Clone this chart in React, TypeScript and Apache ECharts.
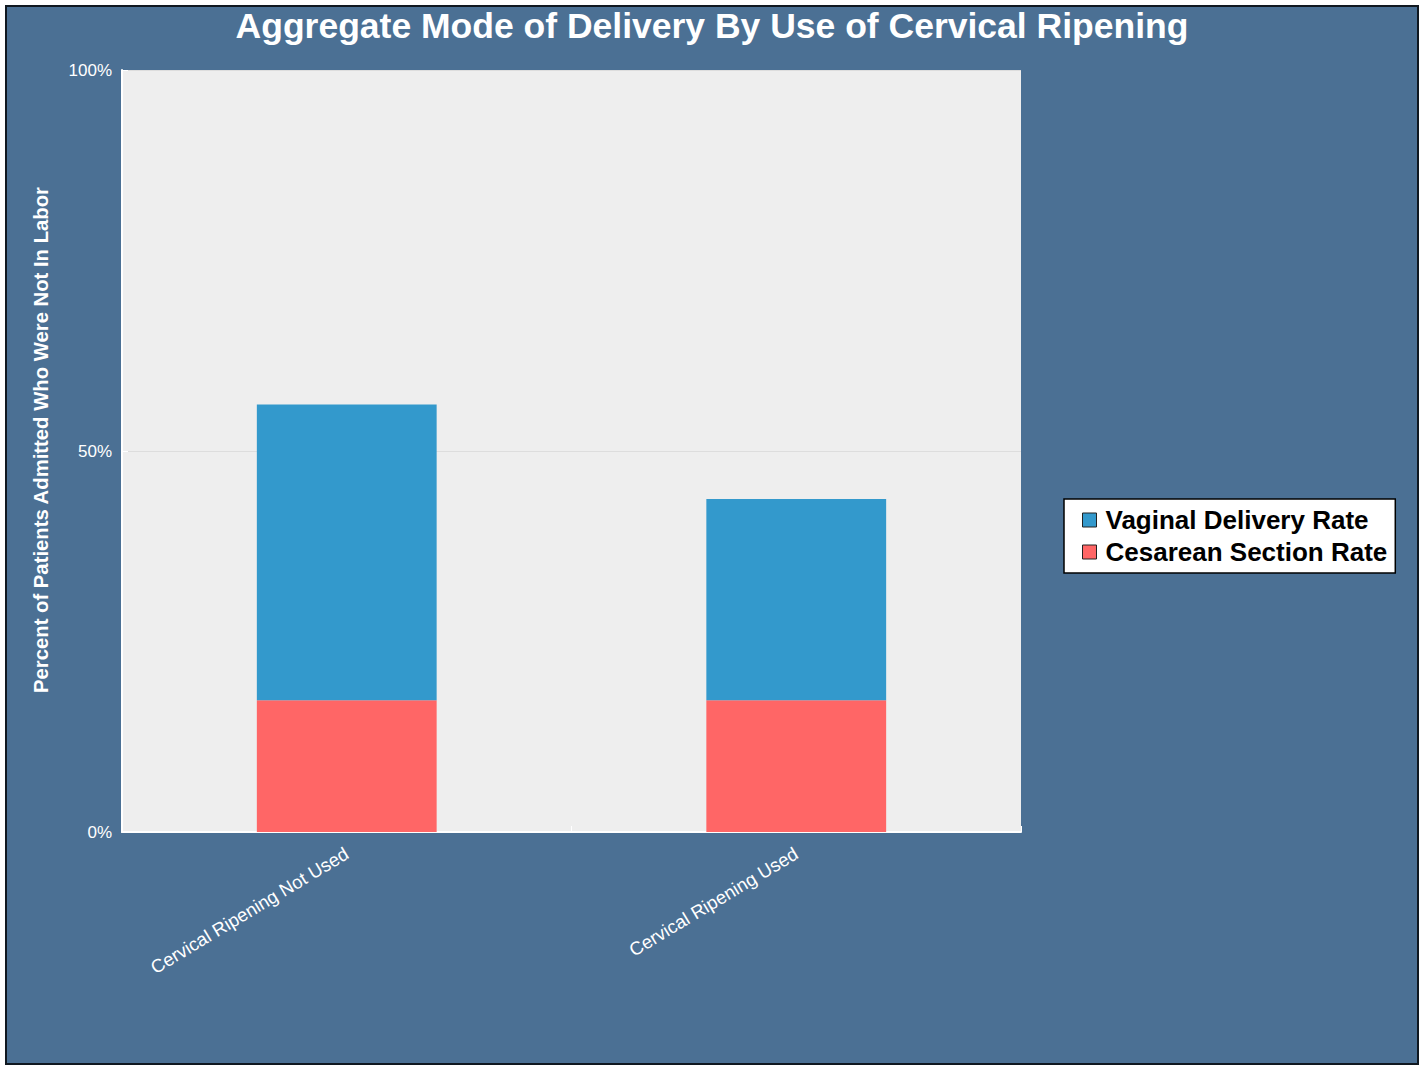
import React, { useEffect, useRef } from "react";
import * as echarts from "echarts";

const categories = ["Cervical Ripening Not Used", "Cervical Ripening Used"];
const cesareanRate = [17.3, 17.3];
const vaginalRate = [38.8, 26.4];
const yTicks = [0, 50, 100];
const yAxisTitle = "Percent of Patients Admitted Who Were Not In Labor";

export default function App() {
  const ref = useRef<HTMLDivElement>(null);
  useEffect(() => {
    if (!ref.current) return;
    const chart = echarts.init(ref.current, undefined, { renderer: "svg" });
    const font = "Liberation Sans, Arial, sans-serif";
    chart.setOption({
      animation: false,
      backgroundColor: "#4b7094",
      title: {
        text: "Aggregate Mode of Delivery By Use of Cervical Ripening",
        left: "center",
        top: -4,
        textStyle: { color: "#ffffff", fontSize: 35.5, fontWeight: "bold", fontFamily: font },
      },
      graphic: [
        {
          type: "text",
          x: 34,
          y: 433,
          rotation: Math.PI / 2,
          style: {
            text: yAxisTitle,
            fill: "#ffffff",
            font: "bold 20.3px Liberation Sans, Arial, sans-serif",
            textAlign: "center",
            textVerticalAlign: "middle",
          },
        },
      ],
      legend: {
        orient: "vertical",
        left: 1057,
        top: 492,
        backgroundColor: "#ffffff",
        borderColor: "#000000",
        borderWidth: 1.5,
        padding: [8, 8, 8, 18],
        itemGap: 6,
        itemWidth: 14,
        itemHeight: 14,
        icon: "rect",
        itemStyle: { borderColor: "#222222", borderWidth: 1 },
        textStyle: { color: "#000000", fontSize: 26, fontWeight: "bold", fontFamily: font, padding: [0, 0, 0, 4] },
        data: ["Vaginal Delivery Rate", "Cesarean Section Rate"],
      },
      grid: {
        left: 115,
        top: 63,
        right: 396,
        bottom: 231,
        show: true,
        backgroundColor: "#eeeeee",
        borderWidth: 0,
      },
      xAxis: {
        type: "category",
        data: categories,
        axisLine: { show: true, lineStyle: { color: "#ffffff", width: 2 } },
        axisTick: { show: true, inside: true, length: 6, lineStyle: { color: "#ffffff" } },
        axisLabel: { color: "#ffffff", fontSize: 18.5, rotate: 31, margin: 20, fontFamily: font },
      },
      yAxis: {
        type: "value",
        min: yTicks[0],
        max: yTicks[yTicks.length - 1],
        interval: 50,
        axisLine: { show: true, lineStyle: { color: "#ffffff", width: 2 } },
        axisTick: { show: true, inside: true, length: 6, lineStyle: { color: "#ffffff" } },
        axisLabel: { color: "#ffffff", fontSize: 17, margin: 10, formatter: "{value}%", fontFamily: font },
        splitLine: { show: true, lineStyle: { color: "#dddddd", width: 1 } },
      },
      series: [
        {
          name: "Cesarean Section Rate",
          type: "bar",
          stack: "total",
          data: cesareanRate,
          barWidth: "40%",
          itemStyle: { color: "#ff6666" },
        },
        {
          name: "Vaginal Delivery Rate",
          type: "bar",
          stack: "total",
          data: vaginalRate,
          barWidth: "40%",
          itemStyle: { color: "#3399cc" },
        },
      ],
    });
    return () => chart.dispose();
  }, []);
  return (
    <div style={{ position: "absolute", left: 0, top: 0, width: 1425, height: 1066, background: "#ffffff" }}>
      <div
        style={{
          position: "absolute",
          left: 5,
          top: 5,
          width: 1410,
          height: 1056,
          border: "2px solid #101820",
        }}
      >
        <div ref={ref} style={{ width: 1410, height: 1056 }} />
      </div>
    </div>
  );
}
